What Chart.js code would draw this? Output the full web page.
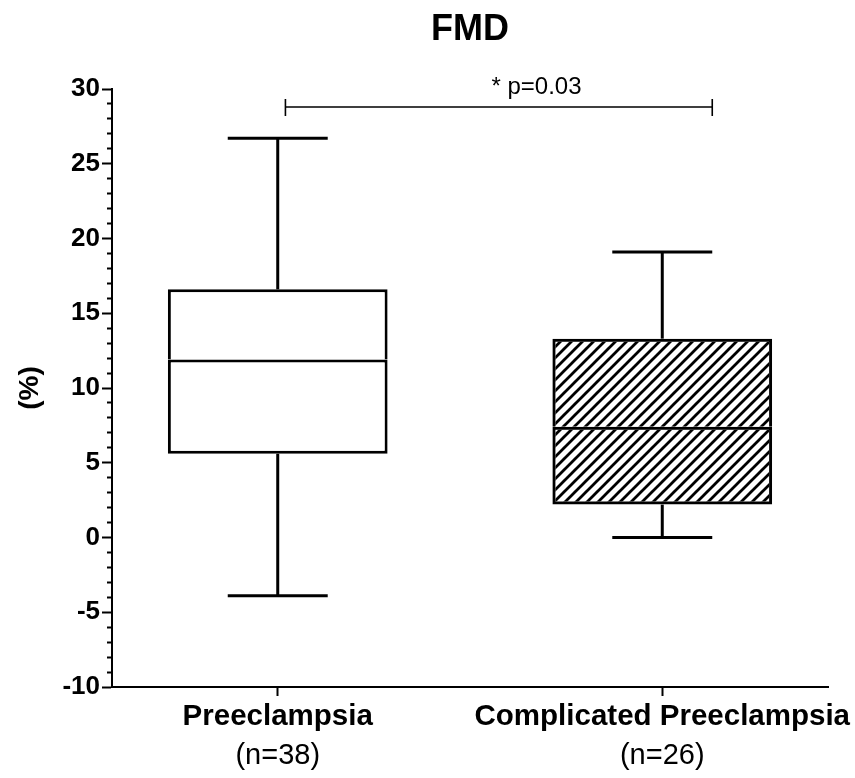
<!DOCTYPE html>
<html>
<head>
<meta charset="utf-8">
<script src="https://cdn.jsdelivr.net/npm/chart.js@4.4.0/dist/chart.umd.min.js"></script>
<style>
  html, body { margin: 0; padding: 0; background: #fff; }
  canvas { display: block; }
</style>
</head>
<body>
<canvas id="fmdChart" width="855" height="778"></canvas>
<script>
// FMD box plot (%)
const groups = ['Preeclampsia', 'Complicated Preeclampsia'];
const groupN = ['(n=38)', '(n=26)'];
const groupX = [1, 2];
const whiskerMin = [-3.9, 0.0];
const q1 = [5.6, 2.2];
const median = [11.9, 7.4];
const q3 = [16.6, 13.3];
const whiskerMax = [26.7, 19.1];
const yTicks = [-10, -5, 0, 5, 10, 15, 20, 25, 30];
const pText = '* p=0.03';

const FONT = "'Liberation Sans', Arial, Helvetica, sans-serif";
Chart.defaults.color = '#000';
Chart.defaults.font.family = FONT;

// diagonal hatch for the second box
function makeHatch() {
	const c = document.createElement('canvas');
	c.width = c.height = 11;
	const g = c.getContext('2d');
	g.strokeStyle = '#000';
	g.lineWidth = 2.8;
	g.beginPath();
	g.moveTo(-1, 12); g.lineTo(12, -1);
	g.moveTo(-6.5, 6.5); g.lineTo(6.5, -6.5);
	g.moveTo(4.5, 17.5); g.lineTo(17.5, 4.5);
	g.stroke();
	return g.createPattern(c, 'repeat');
}
const boxFill = ['#ffffff', makeHatch()];

// whiskers + caps, and the significance bracket
const whiskers = {
	id: 'whiskers',
	afterDatasetsDraw(chart) {
		const {ctx, scales: {x, y}} = chart;
		ctx.save();
		ctx.strokeStyle = '#000';
		ctx.lineWidth = 3;
		ctx.lineCap = 'butt';
		groupX.forEach((gx, i) => {
			const cx = x.getPixelForValue(gx);
			const l = x.getPixelForValue(gx - 0.13);
			const r = x.getPixelForValue(gx + 0.13);
			const segs = [[q3[i], whiskerMax[i]], [q1[i], whiskerMin[i]]];
			segs.forEach(([from, to]) => {
				ctx.beginPath();
				ctx.moveTo(cx, y.getPixelForValue(from));
				ctx.lineTo(cx, y.getPixelForValue(to));
				ctx.stroke();
				ctx.beginPath();
				ctx.moveTo(l, y.getPixelForValue(to));
				ctx.lineTo(r, y.getPixelForValue(to));
				ctx.stroke();
			});
		});

		// bracket between groups
		const by = y.getPixelForValue(28.8);
		const bx1 = x.getPixelForValue(1.02);
		const bx2 = x.getPixelForValue(2.13);
		ctx.lineWidth = 1.6;
		ctx.beginPath();
		ctx.moveTo(bx1, by); ctx.lineTo(bx2, by);
		ctx.moveTo(bx1, by - 8); ctx.lineTo(bx1, by + 9);
		ctx.moveTo(bx2, by - 8); ctx.lineTo(bx2, by + 9);
		ctx.stroke();
		ctx.fillStyle = '#000';
		ctx.font = '24px ' + FONT;
		ctx.textAlign = 'center';
		ctx.textBaseline = 'middle';
		ctx.fillText(pText, x.getPixelForValue(1.673), by - 20);
		ctx.restore();
	}
};

const boxBase = {
	backgroundColor: boxFill,
	borderColor: '#000',
	borderSkipped: false,
	inflateAmount: 0,
	grouped: false,
	categoryPercentage: 1,
	barPercentage: 0.5714
};

// bottom axes: fixed height, no extra side padding from long labels
const fitBottom = (h) => (s) => {
	s.height = h;
	s.paddingLeft = 0;
	s.paddingRight = 0;
};

new Chart(document.getElementById('fmdChart'), {
	type: 'bar',
	data: {
		datasets: [
			Object.assign({
				label: 'Q1-median',
				data: groupX.map((gx, i) => ({x: gx, y: [q1[i], median[i]]})),
				borderWidth: {top: 3, bottom: 3, left: 3, right: 3}
			}, boxBase),
			Object.assign({
				label: 'median-Q3',
				data: groupX.map((gx, i) => ({x: gx, y: [median[i], q3[i]]})),
				borderWidth: {top: 3, bottom: 0, left: 3, right: 3}
			}, boxBase)
		]
	},
	plugins: [whiskers],
	options: {
		responsive: false,
		animation: false,
		events: [],
		layout: {padding: {top: 0, right: 27, bottom: 7, left: 0}},
		plugins: {
			legend: {display: false},
			tooltip: {enabled: false},
			title: {
				display: true,
				text: 'FMD',
				fullSize: false,
				color: '#000',
				font: {size: 36, weight: 'bold', lineHeight: 1.2},
				padding: {top: 8, bottom: 37.8}
			}
		},
		scales: {
			x: {
				type: 'linear',
				position: 'bottom',
				offset: false,
				min: 0.569,
				max: 2.431,
				weight: 0,
				afterBuildTicks: (s) => { s.ticks = groupX.map(v => ({value: v})); },
				afterFit: fitBottom(46),
				grid: {offset: false, drawOnChartArea: false, tickLength: 9, tickWidth: 2, tickColor: '#000'},
				border: {display: true, color: '#000', width: 2},
				ticks: {
					autoSkip: false,
					maxRotation: 0,
					padding: 3,
					color: '#000',
					font: {size: 29.5, weight: 'bold'},
					callback: (v) => { const i = groupX.indexOf(v); return i < 0 ? '' : groups[i]; }
				}
			},
			xn: {
				type: 'linear',
				position: 'bottom',
				offset: false,
				min: 0.569,
				max: 2.431,
				weight: 1,
				afterBuildTicks: (s) => { s.ticks = groupX.map(v => ({value: v})); },
				afterFit: fitBottom(38),
				grid: {display: false, offset: false, drawTicks: false},
				border: {display: false},
				ticks: {
					autoSkip: false,
					maxRotation: 0,
					padding: 6,
					color: '#000',
					font: {size: 29},
					callback: (v) => { const i = groupX.indexOf(v); return i < 0 ? '' : groupN[i]; }
				}
			},
			y: {
				type: 'linear',
				min: -10,
				max: 30,
				afterFit: (s) => { s.width = 112; },
				title: {
					display: true,
					text: '(%)',
					color: '#000',
					font: {size: 28, weight: 'bold', lineHeight: 1.2},
					padding: {top: 13, bottom: 0}
				},
				grid: {
					drawOnChartArea: false,
					tickLength: 10,
					tickWidth: 2,
					tickColor: '#000',
					tickBorderDash: (c) => (c.tick && yTicks.includes(c.tick.value)) ? [] : [0, 5, 10]
				},
				border: {display: true, color: '#000', width: 2},
				ticks: {
					stepSize: 1,
					autoSkip: false,
					padding: 2,
					color: '#000',
					font: {size: 26, weight: 'bold'},
					callback: (v) => yTicks.includes(v) ? String(v) : ''
				}
			}
		}
	}
});
</script>
</body>
</html>
